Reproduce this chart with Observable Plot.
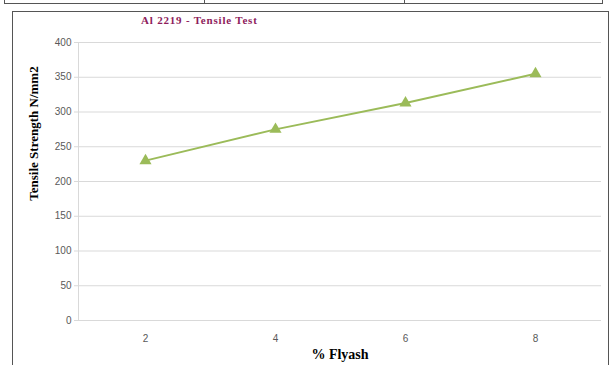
<!DOCTYPE html>
<html><head><meta charset="utf-8">
<script src="https://cdn.jsdelivr.net/npm/d3@7"></script>
<script src="https://cdn.jsdelivr.net/npm/@observablehq/plot@0.6"></script>
<style>
body{margin:0;background:#fff;}
#wrap{position:relative;width:611px;height:365px;overflow:hidden;}
#wrap svg{position:absolute;left:0;top:0;}
.ln{position:absolute;background:#555;}
#title{position:absolute;left:141px;top:14px;font:bold 11px "Liberation Serif",serif;letter-spacing:0.8px;color:#8e1c5c;white-space:nowrap;}
</style></head>
<body>
<div id="wrap">
  <div class="ln" style="left:4px;top:3px;width:599px;height:1px;"></div>
  <div class="ln" style="left:4px;top:0;width:1px;height:4px;"></div>
  <div class="ln" style="left:204px;top:0;width:1px;height:4px;"></div>
  <div class="ln" style="left:404px;top:0;width:1px;height:4px;"></div>
  <div class="ln" style="left:602px;top:0;width:1px;height:4px;"></div>
  <div class="ln" style="left:12px;top:11px;width:597px;height:1px;"></div>
  <div class="ln" style="left:12px;top:11px;width:1px;height:360px;"></div>
  <div class="ln" style="left:608px;top:11px;width:1px;height:360px;"></div>
  <div id="title">Al 2219 - Tensile Test</div>
</div>
<script>
const flyash = [2, 4, 6, 8];
const strength = [230, 275, 313, 355];
const yTicks = [0, 50, 100, 150, 200, 250, 300, 350, 400];
const xLabel = "% Flyash";
const yLabel = "Tensile Strength N/mm2";

const data = flyash.map((f, i) => ({f, v: strength[i]}));
const plotW = 611 - 78 - 10;

const chart = Plot.plot({
  width: 611, height: 365,
  marginLeft: 78, marginRight: 10, marginTop: 42, marginBottom: 45,
  style: {background: "transparent", fontFamily: "'Liberation Sans', sans-serif", fontSize: "10px", color: "#595959"},
  x: {type: "point", domain: flyash, padding: 0.5, label: null},
  y: {domain: [0, 400], ticks: yTicks, label: null},
  marks: [
    Plot.gridY(yTicks, {stroke: "#d9d9d9", strokeOpacity: 1}),
    Plot.ruleX([0], {x: null, dx: -plotW / 2, stroke: "#d9d9d9"}),
    Plot.axisY({ticks: yTicks, tickSize: 4, tickPadding: 3, stroke: "#d9d9d9", fill: "#595959"}),
    Plot.axisX({tickSize: 0, tickPadding: 14, fill: "#595959"}),
    Plot.line(data, {x: "f", y: "v", stroke: "#9bbb59", strokeWidth: 2}),
    Plot.dot(data, {x: "f", y: "v", symbol: "triangle", fill: "#9bbb59", stroke: "none", r: 4.5}),
    Plot.text([xLabel], {frameAnchor: "bottom", dy: 38, fontFamily: "'Liberation Serif', serif", fontWeight: "bold", fontSize: 14, letterSpacing: "1px", fill: "#000"}),
    Plot.text([yLabel], {frameAnchor: "left", dx: -45, dy: -48, rotate: -90, fontFamily: "'Liberation Serif', serif", fontWeight: "bold", fontSize: 13, fill: "#000", textAnchor: "middle"})
  ]
});
document.getElementById("wrap").prepend(chart);
</script>
</body></html>
